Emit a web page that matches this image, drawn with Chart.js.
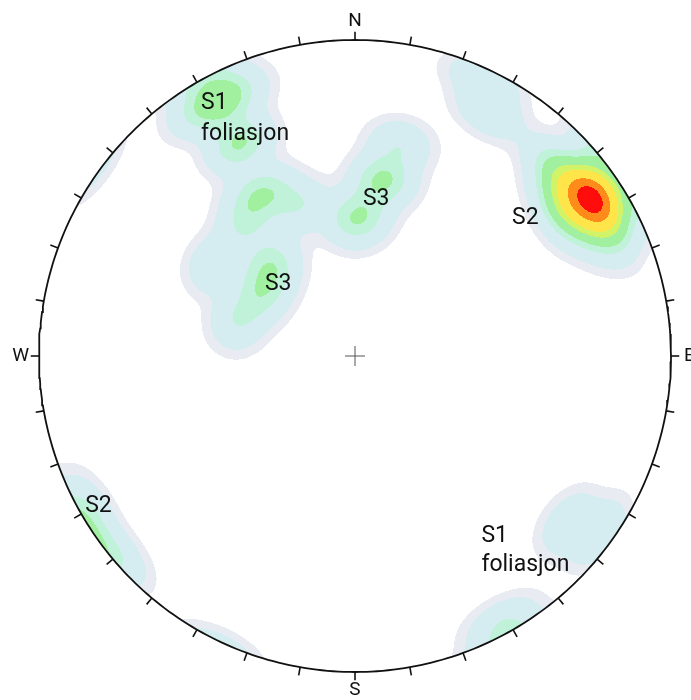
<!DOCTYPE html>
<html>
<head>
<meta charset="utf-8">
<title>Stereonet</title>
<script src="https://cdn.jsdelivr.net/npm/chart.js@4.4.1/dist/chart.umd.min.js"></script>
<style>
  html, body { margin: 0; padding: 0; background: #fff; }
  #wrap { width: 691px; height: 700px; }
</style>
</head>
<body>
<div id="wrap"><canvas id="net" width="691" height="700"></canvas></div>
<script>
// Poles (lower hemisphere), trend / plunge in degrees
const poleTrend = [
  56, 55, 57, 56, 58, 54, 56, 57, 55, 57, 50, 46, 62, 64, 52, 60, 240, 230, // S2
  25, 29,                                                                  // N
  332, 328, 335, 332, 332, 331, 327, 333, 340, 320, 151,                   // S1 foliasjon
  10, 8, 3, 359, 12,                                                       // S3 (upper)
  303, 312, 301, 319, 286,                                                 // S3 (lower)
  126, 128                                                                 // SE
];
const polePlunge = [
  12, 13, 11, 10, 14, 9, 18, 22, 6, 4, 15, 14, 16, 10, 20, 8, 3, 2,
  4, 13,
  4, 9, 9, 13, 23, 26, 40, 41, 48, 45, 4,
  42, 44, 53, 55, 32,
  46, 60, 61, 57, 58,
  5, 15
];

// contour levels (kernel density) and fills
const contourLevels = [0.12, 0.32, 1.15, 1.8, 3.0, 3.9, 5.6, 7.0];
const contourColors = ["#e8ebf1", "#d5edf0", "#bff2d8", "#a0f0a0", "#d2f268", "#ffe54a", "#ff8c1a", "#ff0d0d"];
const SIGMA = 4.5; // kernel width, degrees

const tickAngles = [];
for (let a = 0; a < 360; a += 10) tickAngles.push(a);
const dirLabels = ["N", "E", "S", "W"];
const dirAngles = [0, 90, 180, 270];

// set labels, placed in net units (left edge, baseline)
const setLabels = [
  { text: "S1", x: -0.487, y: 0.783 },
  { text: "foliasjon", x: -0.487, y: 0.684 },
  { text: "S3", x: 0.025, y: 0.478 },
  { text: "S3", x: -0.285, y: 0.209 },
  { text: "S2", x: 0.497, y: 0.418 },
  { text: "S2", x: -0.854, y: -0.494 },
  { text: "S1", x: 0.4, y: -0.589 },
  { text: "foliasjon", x: 0.4, y: -0.680 },
];

const rad = Math.PI / 180;
const primitive = [];
for (let a = 0; a <= 360; a += 1) primitive.push({ x: Math.sin(a * rad), y: Math.cos(a * rad) });

function hexRgb(h) {
  const n = parseInt(h.slice(1), 16);
  return [(n >> 16) & 255, (n >> 8) & 255, n & 255];
}

let densityCache = null;

const densityPlugin = {
  id: "density",
  beforeDatasetsDraw(chart) {
    const { ctx, chartArea: a, scales: { x, y } } = chart;
    if (!densityCache) {
      const w = Math.round(a.right - a.left), h = Math.round(a.bottom - a.top);
      const off = document.createElement("canvas");
      off.width = w; off.height = h;
      const octx = off.getContext("2d");
      const img = octx.createImageData(w, h);
      const K = 1 / Math.pow(SIGMA * rad, 2);
      const poles = poleTrend.map((t, i) => {
        const tr = t * rad, pl = polePlunge[i] * rad;
        return [Math.cos(pl) * Math.cos(tr), Math.cos(pl) * Math.sin(tr), Math.sin(pl)];
      });
      const rgb = contourColors.map(hexRgb);
      for (let j = 0; j < h; j++) {
        const vy = y.getValueForPixel(a.top + j + 0.5);
        for (let i = 0; i < w; i++) {
          const vx = x.getValueForPixel(a.left + i + 0.5);
          const r2 = vx * vx + vy * vy;
          if (r2 > 1) continue;
          const colat = 2 * Math.asin(Math.sqrt(r2) / Math.SQRT2);
          const tr = Math.atan2(vx, vy);
          const s = Math.sin(colat);
          const n = s * Math.cos(tr), e = s * Math.sin(tr), d = Math.cos(colat);
          let dens = 0;
          for (const p of poles) {
            const c = Math.abs(n * p[0] + e * p[1] + d * p[2]);
            dens += Math.exp(K * (c - 1));
          }
          let lev = -1;
          for (let k = 0; k < contourLevels.length; k++) if (dens >= contourLevels[k]) lev = k;
          if (lev < 0) continue;
          const o = (j * w + i) * 4;
          img.data[o] = rgb[lev][0];
          img.data[o + 1] = rgb[lev][1];
          img.data[o + 2] = rgb[lev][2];
          img.data[o + 3] = 255;
        }
      }
      octx.putImageData(img, 0, 0);
      densityCache = off;
    }
    ctx.drawImage(densityCache, a.left, a.top);
  },
  afterDatasetsDraw(chart) {
    const { ctx, scales: { x, y } } = chart;
    ctx.save();
    // compass ticks
    ctx.strokeStyle = "#111";
    ctx.lineWidth = 1.6;
    tickAngles.forEach((t) => {
      const sx = Math.sin(t * rad), sy = Math.cos(t * rad);
      ctx.beginPath();
      ctx.moveTo(x.getPixelForValue(sx), y.getPixelForValue(sy));
      ctx.lineTo(x.getPixelForValue(sx * 1.026), y.getPixelForValue(sy * 1.026));
      ctx.stroke();
    });
    // N E S W
    ctx.fillStyle = "#111";
    ctx.font = "19px Roboto";
    ctx.textAlign = "center";
    ctx.textBaseline = "middle";
    dirLabels.forEach((l, i) => {
      const t = dirAngles[i] * rad;
      ctx.fillText(l, x.getPixelForValue(Math.sin(t) * 1.058), y.getPixelForValue(Math.cos(t) * 1.058));
    });
    // set labels
    ctx.font = "23px Roboto";
    ctx.textAlign = "left";
    ctx.textBaseline = "alphabetic";
    setLabels.forEach((l) => {
      ctx.fillText(l.text, x.getPixelForValue(l.x), y.getPixelForValue(l.y));
    });
    ctx.restore();
  },
};

new Chart(document.getElementById("net"), {
  type: "scatter",
  data: {
    datasets: [
      {
        data: primitive,
        showLine: true,
        pointRadius: 0,
        borderColor: "#111",
        borderWidth: 1.8,
      },
      {
        data: [{ x: 0, y: 0 }],
        pointStyle: "cross",
        pointRadius: 10,
        borderColor: "#555",
        borderWidth: 1,
      },
    ],
  },
  options: {
    responsive: false,
    animation: false,
    layout: { padding: 0, autoPadding: false },
    plugins: { legend: { display: false }, tooltip: { enabled: false } },
    scales: {
      x: { type: "linear", min: -355 / 316, max: (691 - 355) / 316, display: false },
      y: { type: "linear", min: -(700 - 356) / 316, max: 356 / 316, display: false },
    },
  },
  plugins: [densityPlugin],
});
</script>
</body>
</html>
